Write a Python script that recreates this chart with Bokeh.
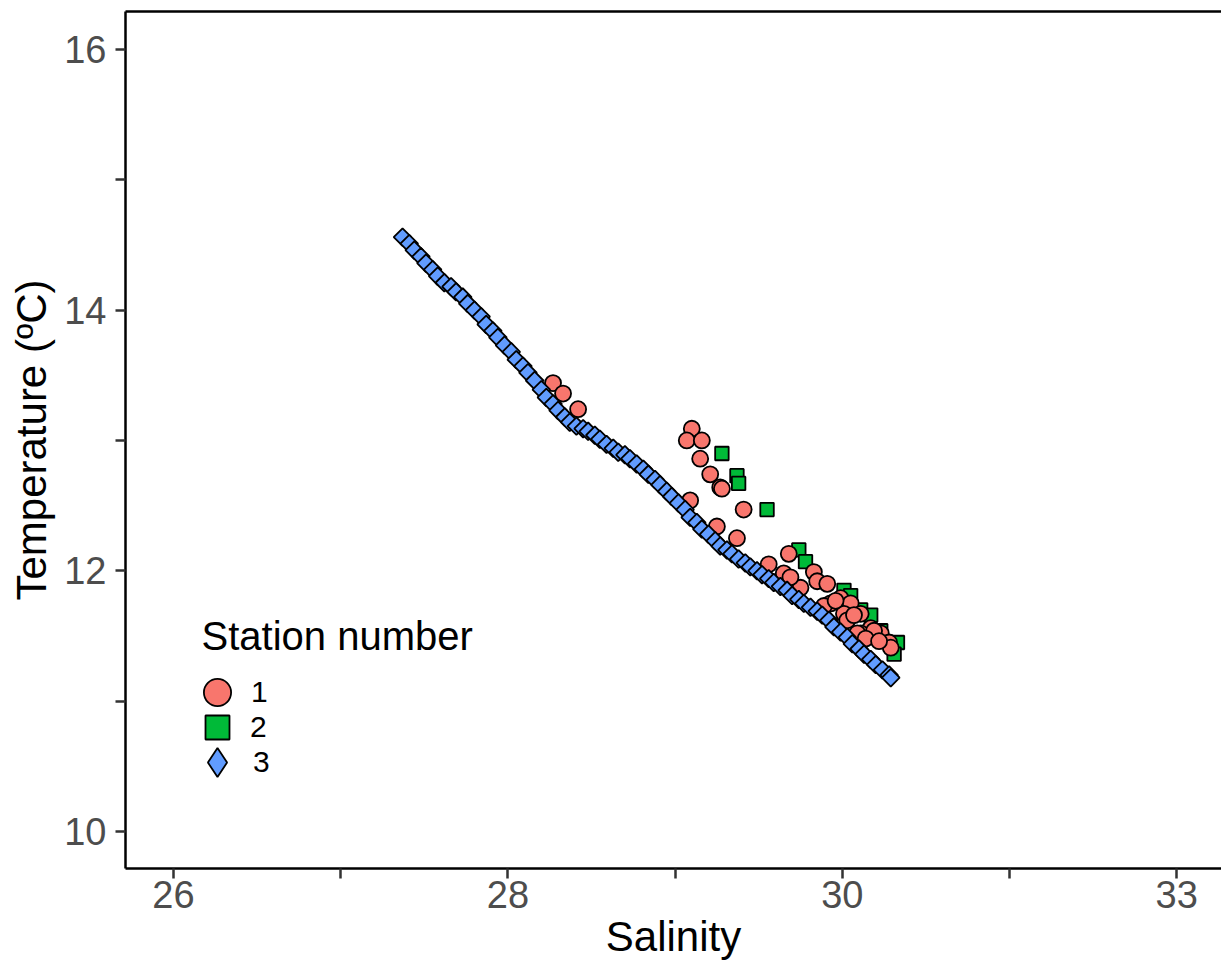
from bokeh.plotting import figure
from bokeh.models import FixedTicker, LinearAxis, Legend, LegendItem, Range1d, Label
from bokeh.embed import file_html
from bokeh.resources import INLINE
import math

# ---------------- data ----------------
x_ticks = [26, 27, 28, 29, 30, 31, 32]
x_tick_labels = ["26", "", "28", "", "30", "", "33"]
y_ticks = [10, 11, 12, 13, 14, 15, 16]
y_tick_labels = ["10", "", "12", "", "14", "", "16"]

stations = ["1", "2", "3"]

sal_1 = [28.27, 28.33, 28.42, 29.10, 29.07, 29.16, 29.15, 29.21, 29.27, 29.28, 29.41, 29.09,
         29.25, 29.37, 29.56, 29.68, 29.83, 29.85, 29.91, 29.75, 29.65, 29.69, 29.99, 30.05,
         29.93, 29.89, 30.01, 30.11, 30.03, 30.17, 30.11, 30.23, 30.28, 30.29, 30.09, 30.19,
         30.14, 30.22, 30.07, 29.96]
temp_1 = [13.44, 13.36, 13.24, 13.09, 13.00, 13.00, 12.86, 12.74, 12.64, 12.63, 12.47, 12.54,
          12.34, 12.25, 12.05, 12.13, 11.99, 11.92, 11.90, 11.87, 11.98, 11.95, 11.79, 11.75,
          11.75, 11.73, 11.67, 11.67, 11.62, 11.56, 11.52, 11.52, 11.45, 11.41, 11.52, 11.54,
          11.48, 11.46, 11.66, 11.77]

sal_2 = [29.28, 29.37, 29.38, 29.55, 29.74, 29.78, 30.01, 30.05, 30.11, 30.17, 30.23, 30.33, 30.31]
temp_2 = [12.90, 12.73, 12.67, 12.47, 12.16, 12.07, 11.85, 11.81, 11.70, 11.66, 11.54, 11.45, 11.36]

sal_3 = [27.37, 27.41, 27.44, 27.48, 27.51, 27.55, 27.58, 27.62, 27.66, 27.69, 27.73, 27.76,
         27.80, 27.84, 27.87, 27.91, 27.94, 27.98, 28.02, 28.05, 28.09, 28.12, 28.16, 28.20,
         28.23, 28.27, 28.30, 28.34, 28.37, 28.41, 28.45, 28.48, 28.52, 28.55, 28.59, 28.63,
         28.66, 28.70, 28.73, 28.77, 28.81, 28.84, 28.88, 28.91, 28.95, 28.98, 29.02, 29.06,
         29.09, 29.13, 29.16, 29.20, 29.24, 29.27, 29.31, 29.34, 29.38, 29.42, 29.45, 29.49,
         29.52, 29.56, 29.59, 29.63, 29.67, 29.70, 29.74, 29.77, 29.81, 29.85, 29.88, 29.92,
         29.95, 29.99, 30.03, 30.06, 30.10, 30.13, 30.17, 30.20, 30.24, 30.28, 30.29]
temp_3 = [14.56, 14.51, 14.46, 14.41, 14.36, 14.31, 14.26, 14.21, 14.18, 14.14, 14.10, 14.05,
          14.00, 13.95, 13.89, 13.84, 13.79, 13.73, 13.68, 13.62, 13.57, 13.52, 13.46, 13.39,
          13.33, 13.28, 13.23, 13.18, 13.14, 13.11, 13.09, 13.07, 13.04, 13.01, 12.97, 12.94,
          12.91, 12.89, 12.86, 12.82, 12.78, 12.74, 12.70, 12.66, 12.61, 12.57, 12.52, 12.47,
          12.41, 12.37, 12.32, 12.28, 12.23, 12.19, 12.16, 12.13, 12.09, 12.06, 12.03, 12.00,
          11.97, 11.94, 11.91, 11.88, 11.85, 11.81, 11.78, 11.75, 11.72, 11.69, 11.66, 11.62,
          11.57, 11.53, 11.49, 11.44, 11.40, 11.36, 11.32, 11.28, 11.24, 11.20, 11.18]

# ---------------- style ----------------
FONT = "Liberation Sans"
C1, C2, C3 = "#F8766D", "#00BA38", "#619CFF"

p = figure(width=1221, height=975, output_backend="svg", toolbar_location=None,
           x_range=Range1d(25.713, 32.268), y_range=Range1d(9.716, 16.291),
           min_border_left=125, min_border_right=0, min_border_top=11, min_border_bottom=107,
           background_fill_color="white", border_fill_color="white")
p.outline_line_color = None
p.grid.visible = False

for ax in (p.xaxis[0], p.yaxis[0]):
    ax.axis_line_color = "black"
    ax.axis_line_width = 2.5
    ax.major_tick_line_color = "#333333"
    ax.major_tick_line_width = 2.5
    ax.major_tick_out = 10
    ax.major_tick_in = 0
    ax.minor_tick_line_color = None
    ax.major_label_text_font = FONT
    ax.major_label_text_font_size = "38px"
    ax.major_label_text_color = "#4D4D4D"
    ax.axis_label_text_font = FONT
    ax.axis_label_text_font_size = "42px"
    ax.axis_label_text_font_style = "normal"
    ax.axis_label_text_color = "black"

p.xaxis.ticker = FixedTicker(ticks=x_ticks)
p.xaxis.major_label_overrides = {t: l for t, l in zip(x_ticks, x_tick_labels)}
p.yaxis.ticker = FixedTicker(ticks=y_ticks)
p.yaxis.major_label_overrides = {t: l for t, l in zip(y_ticks, y_tick_labels)}
p.xaxis.axis_label = "Salinity"
p.yaxis.axis_label = "Temperature (ºC)"
p.xaxis.major_label_standoff = 2
p.yaxis.major_label_standoff = 9
p.xaxis.axis_label_standoff = 2
p.yaxis.axis_label_standoff = 6

# top border line
top = LinearAxis(ticker=FixedTicker(ticks=[]), axis_line_color="black", axis_line_width=2.5,
                 major_tick_line_color=None, minor_tick_line_color=None)
p.add_layout(top, "above")

r2 = p.scatter(sal_2, temp_2, marker="square", size=13.5, fill_color=C2,
               line_color="black", line_width=1.8)
r1 = p.scatter(sal_1, temp_1, marker="circle", size=16, fill_color=C1,
               line_color="black", line_width=1.8)
r3 = p.scatter(sal_3, temp_3, marker="square", angle=math.pi / 4, size=12.5, fill_color=C3,
               line_color="black", line_width=1.8)
# hidden twin of station 3, used only for its diamond legend key
r3_key = p.scatter(sal_3, temp_3, marker="diamond", size=12.5, fill_color=C3,
                   line_color="black", line_width=1.8, visible=False)

def key(label, renderer, box, loc, standoff):
    return Legend(items=[LegendItem(label=label, renderers=[renderer])],
                  location=loc, orientation="vertical",
                  glyph_width=box, glyph_height=box, spacing=0, padding=0, margin=0,
                  label_standoff=standoff, label_text_font=FONT, label_text_font_size="30px",
                  label_text_color="black", border_line_color=None,
                  background_fill_alpha=0, inactive_fill_alpha=0, click_policy="none")

p.add_layout(key(stations[0], r1, 68, (58, 142), 0))
p.add_layout(key(stations[1], r2, 60, (62, 111), 3))
p.add_layout(key(stations[2], r3_key, 72, (56, 70), 0))

p.add_layout(Label(x=76, y=233, x_units="screen", y_units="screen", text="Station number",
                   text_font=FONT, text_font_size="40px", text_color="black",
                   text_baseline="alphabetic", text_align="left"))

open("out.html", "w").write(file_html(p, INLINE))
